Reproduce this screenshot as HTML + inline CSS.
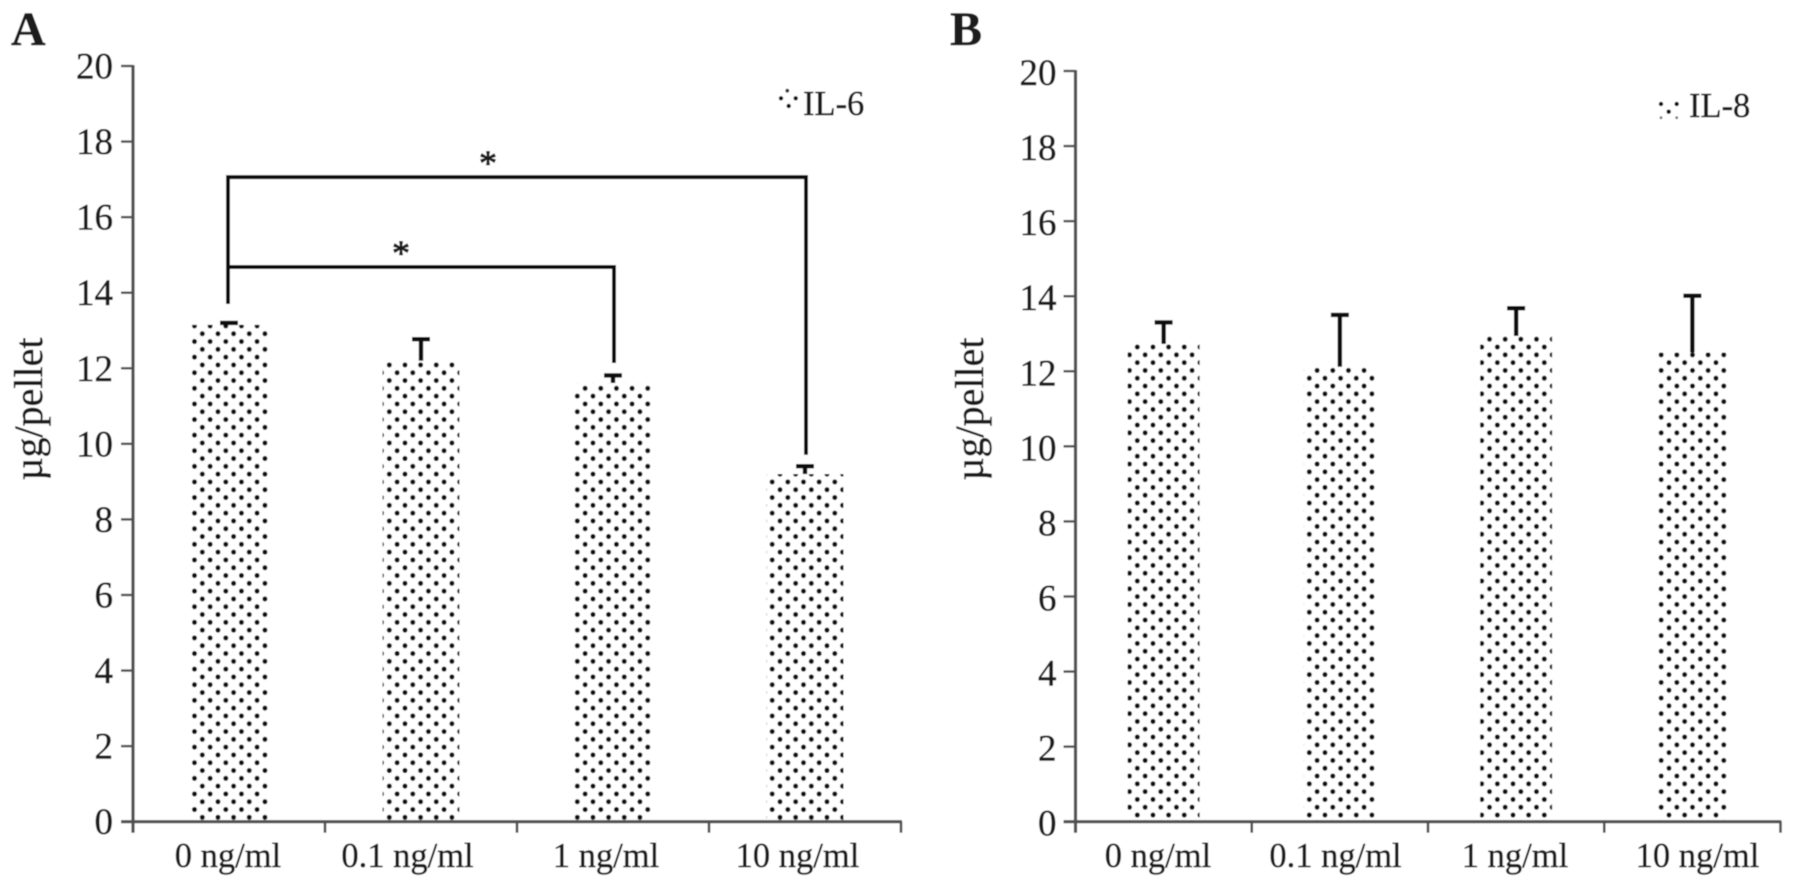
<!DOCTYPE html>
<html lang="en">
<head>
<meta charset="utf-8">
<title>IL-6 and IL-8 by dose</title>
<style>
html,body{margin:0;padding:0;background:#fff;}
body{width:1795px;height:886px;overflow:hidden;}
svg{display:block;}
text{font-family:"Liberation Serif",serif;fill:#1a1a1a;stroke:#1a1a1a;stroke-width:0.5px;}
</style>
</head>
<body>
<svg id="figure" xmlns="http://www.w3.org/2000/svg" width="1795" height="886" viewBox="0 0 1795 886">
  <defs>
    <filter id="soft" x="-2%" y="-2%" width="104%" height="104%"><feGaussianBlur stdDeviation="0.55"/></filter>
    <pattern id="dots-a1" patternUnits="userSpaceOnUse" x="198.4" y="813.4" width="15.65" height="15.6"><circle cx="3.9" cy="3.9" r="2.5" fill="#111"/><circle cx="11.72" cy="11.7" r="2.5" fill="#111"/></pattern>
    <pattern id="dots-a2" patternUnits="userSpaceOnUse" x="385.4" y="813.4" width="15.65" height="15.6"><circle cx="3.9" cy="3.9" r="2.5" fill="#111"/><circle cx="11.72" cy="11.7" r="2.5" fill="#111"/></pattern>
    <pattern id="dots-a3" patternUnits="userSpaceOnUse" x="573.4" y="813.4" width="15.65" height="15.6"><circle cx="3.9" cy="3.9" r="2.5" fill="#111"/><circle cx="11.72" cy="11.7" r="2.5" fill="#111"/></pattern>
    <pattern id="dots-a4" patternUnits="userSpaceOnUse" x="776.1" y="813.4" width="15.65" height="15.6"><circle cx="3.9" cy="3.9" r="2.5" fill="#111"/><circle cx="11.72" cy="11.7" r="2.5" fill="#111"/></pattern>
    <pattern id="dots-b1" patternUnits="userSpaceOnUse" x="1133.4" y="811.1" width="15.65" height="15.6"><circle cx="3.9" cy="3.9" r="2.5" fill="#111"/><circle cx="11.72" cy="11.7" r="2.5" fill="#111"/></pattern>
    <pattern id="dots-b2" patternUnits="userSpaceOnUse" x="1305.4" y="811.1" width="15.65" height="15.6"><circle cx="3.9" cy="3.9" r="2.5" fill="#111"/><circle cx="11.72" cy="11.7" r="2.5" fill="#111"/></pattern>
    <pattern id="dots-b3" patternUnits="userSpaceOnUse" x="1477.8" y="811.1" width="15.65" height="15.6"><circle cx="3.9" cy="3.9" r="2.5" fill="#111"/><circle cx="11.72" cy="11.7" r="2.5" fill="#111"/></pattern>
    <pattern id="dots-b4" patternUnits="userSpaceOnUse" x="1665.1" y="811.1" width="15.65" height="15.6"><circle cx="3.9" cy="3.9" r="2.5" fill="#111"/><circle cx="11.72" cy="11.7" r="2.5" fill="#111"/></pattern>
  </defs>
  <g id="root" filter="url(#soft)">
    <rect x="0" y="0" width="1795" height="886" fill="#fff"/>

    <text x="11" y="45" font-size="48" font-weight="700" fill="#111">A</text>
    <text x="950" y="45" font-size="48" font-weight="700" fill="#111">B</text>

    <text transform="translate(42,409) rotate(-90)" text-anchor="middle" font-size="40">µg/pellet</text>
    <text transform="translate(983,409) rotate(-90)" text-anchor="middle" font-size="40">µg/pellet</text>

    <g>
      <circle cx="787.3" cy="90.7" r="1.9" fill="#333"/>
      <circle cx="781" cy="98.3" r="2.2" fill="#111"/>
      <circle cx="795.7" cy="98.3" r="2.2" fill="#111"/>
      <circle cx="788.7" cy="106" r="2.2" fill="#111"/>
      <text x="803" y="115" font-size="34.5">IL-6</text>
    </g>
    <g>
      <circle cx="1661" cy="104" r="2.2" fill="#111"/>
      <circle cx="1676.7" cy="104" r="2.2" fill="#111"/>
      <circle cx="1668.7" cy="111.7" r="2.2" fill="#111"/>
      <circle cx="1661" cy="117.7" r="1.4" fill="#777"/>
      <circle cx="1676.7" cy="117.7" r="1.4" fill="#777"/>
      <text x="1689" y="117" font-size="34.5">IL-8</text>
    </g>

    <g font-size="34" text-anchor="middle">
      <text x="228" y="867" text-anchor="middle" font-size="34.5">0 ng/ml</text>
      <text x="407.5" y="867" text-anchor="middle" font-size="34.5">0.1 ng/ml</text>
      <text x="606" y="867" text-anchor="middle" font-size="34.5">1 ng/ml</text>
      <text x="797.5" y="867" text-anchor="middle" font-size="34.5">10 ng/ml</text>
    </g>
    <g font-size="34" text-anchor="middle">
      <text x="1158" y="867" text-anchor="middle" font-size="34.5">0 ng/ml</text>
      <text x="1335.5" y="867" text-anchor="middle" font-size="34.5">0.1 ng/ml</text>
      <text x="1515" y="867" text-anchor="middle" font-size="34.5">1 ng/ml</text>
      <text x="1697.5" y="867" text-anchor="middle" font-size="34.5">10 ng/ml</text>
    </g>

    <g id="panel-a"></g>
    <g id="panel-b"></g>
  </g>
</svg>
<script>
var categories = ['0 ng/ml', '0.1 ng/ml', '1 ng/ml', '10 ng/ml'];
var yTickValues = [0, 2, 4, 6, 8, 10, 12, 14, 16, 18, 20];
var il6Values = [13.15, 12.2, 11.61, 9.2];
var il6Errors = [0.05, 0.57, 0.2, 0.21];
var il8Values = [12.73, 12.12, 12.94, 12.5];
var il8Errors = [0.57, 1.38, 0.74, 1.51];
var bracketTargets = [3, 2];
var bracketLevels = [17.06, 14.68];
var bracketEnds = [9.71, 12.14];
var bracketStart = 13.7;

var SVG_NS = 'http://www.w3.org/2000/svg';

function make(parent, tag, attrs) {
  var el = document.createElementNS(SVG_NS, tag);
  for (var k in attrs) { el.setAttribute(k, attrs[k]); }
  parent.appendChild(el);
  return el;
}

function slug(s) {
  return s.replace(/[^a-z0-9]+/gi, '-').toLowerCase();
}

function drawPanel(parent, key, g, values, errors) {
  function yScale(v) { return g.y0 + (g.y20 - g.y0) * v / 20; }
  var band = (g.x1 - g.x0) / categories.length;
  function xCenter(i) { return g.x0 + band * (i + 0.5); }
  var axisColor = '#505050';

  values.forEach(function (v, i) {
    var cx = xCenter(i);
    var bar = make(parent, 'rect', {
      x: cx - g.barW / 2, y: yScale(v), width: g.barW, height: g.y0 - yScale(v),
      fill: 'url(#dots-' + key + (i + 1) + ')'
    });
    
    

    var topY = yScale(v + errors[i]);
    var stem = make(parent, 'line', {
      x1: cx, x2: cx, y1: yScale(v), y2: topY, stroke: '#0a0a0a', 'stroke-width': 4.4
    });
    
    

    var cap = make(parent, 'line', {
      x1: cx - 9, x2: cx + 9, y1: topY, y2: topY, stroke: '#0a0a0a', 'stroke-width': 4.4
    });
    
    
  });

  var yAxis = make(parent, 'line', {
    x1: g.x0, x2: g.x0, y1: g.y20 - 1, y2: g.y0 + 11, stroke: axisColor, 'stroke-width': 3.2
  });
  
  

  var xAxis = make(parent, 'line', {
    x1: g.x0 - 12, x2: g.x1 + 1, y1: g.y0, y2: g.y0, stroke: axisColor, 'stroke-width': 3.2
  });
  
  

  yTickValues.forEach(function (t) {
    var y = yScale(t);
    var tick = make(parent, 'line', {
      x1: g.x0 - 12, x2: g.x0, y1: y, y2: y, stroke: axisColor, 'stroke-width': 2.4
    });
    
    

    var label = make(parent, 'text', {
      x: g.x0 - g.labelGap, y: y + g.labelDrop, 'text-anchor': 'end', 'font-size': 37
    });
    label.textContent = String(t);
    
    
  });

  for (var i = 1; i <= categories.length; i++) {
    var tx = g.x0 + band * i;
    var xTick = make(parent, 'line', {
      x1: tx, x2: tx, y1: g.y0, y2: g.y0 + 11, stroke: axisColor, 'stroke-width': 2.6
    });
    
    
  }

  return { yScale: yScale, xCenter: xCenter };
}

var panelA = drawPanel(document.getElementById('panel-a'), 'a',
  { x0: 133, x1: 901, y0: 821.7, y20: 66, barW: 77, labelGap: 20, labelDrop: 12.5 },
  il6Values, il6Errors);

drawPanel(document.getElementById('panel-b'), 'b',
  { x0: 1075.5, x1: 1780.5, y0: 821.7, y20: 71, barW: 72, labelGap: 19, labelDrop: 14 },
  il8Values, il8Errors);

var bracketGroup = document.getElementById('panel-a');
var asteriskXs = { 3: 488, 2: 401 };
bracketTargets.forEach(function (target, i) {
  var xa = panelA.xCenter(0) - 1;
  var xb = panelA.xCenter(target) + 1;
  var ly = panelA.yScale(bracketLevels[i]);
  var ey = panelA.yScale(bracketEnds[i]);
  var sy = panelA.yScale(bracketStart);
  var line = make(bracketGroup, 'polyline', {
    points: xa + ',' + sy + ' ' + xa + ',' + ly + ' ' + xb + ',' + ly + ' ' + xb + ',' + ey,
    fill: 'none', stroke: '#0a0a0a', 'stroke-width': 4, 'stroke-linejoin': 'miter'
  });
  
  

  var star = make(bracketGroup, 'text', {
    x: asteriskXs[target], y: ly - 2, 'text-anchor': 'middle', 'font-size': 36, fill: '#333',
    style: 'stroke-width:1px'
  });
  star.textContent = '*';
  
  
});
</script>
</body>
</html>
